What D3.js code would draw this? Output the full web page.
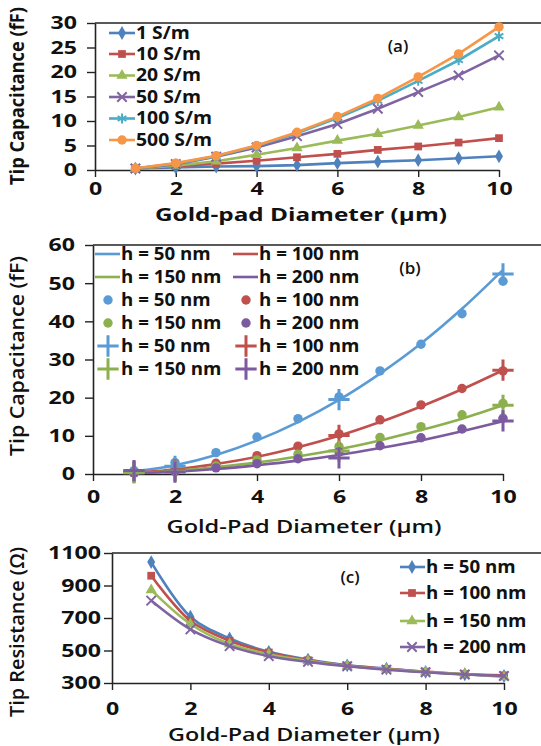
<!DOCTYPE html>
<html>
<head>
<meta charset="utf-8">
<script src="https://cdn.jsdelivr.net/npm/d3@7"></script>
<style>
  body { margin: 0; background: #fff; }
  svg text { font-family: "Open Sans", sans-serif; fill: #111; }
</style>
</head>
<body>
<svg id="chart" width="541" height="746"></svg>
<script>
const svg = d3.select("#chart");

// shared x values
const diam = [1, 2, 3, 4, 5, 6, 7, 8, 9, 10];
const diamTicks = [0, 2, 4, 6, 8, 10];

// panel (a) - capacitance vs conductivity
const condLabels = ["1 S/m", "10 S/m", "20 S/m", "50 S/m", "100 S/m", "500 S/m"];
const cap1 = [0.3, 0.5, 0.7, 0.8, 1.0, 1.4, 1.7, 2.0, 2.4, 2.8];
const cap10 = [0.3, 0.8, 1.3, 1.9, 2.6, 3.3, 4.1, 4.8, 5.6, 6.5];
const cap20 = [0.3, 0.9, 1.8, 3.1, 4.5, 6.0, 7.4, 9.1, 10.8, 12.8];
const cap50 = [0.3, 1.2, 2.7, 4.6, 6.9, 9.4, 12.5, 15.9, 19.3, 23.4];
const cap100 = [0.3, 1.3, 2.8, 4.9, 7.5, 10.6, 14.1, 18.2, 22.4, 27.3];
const cap500 = [0.35, 1.4, 2.9, 5.0, 7.7, 10.9, 14.6, 19.0, 23.7, 29.2];
const capTicksA = [0, 5, 10, 15, 20, 25, 30];

// panel (b) - capacitance vs height: fitted lines, dots, crosses
const hLabels = ["h = 50 nm", "h = 100 nm", "h = 150 nm", "h = 200 nm"];
const fit50 = [0.7, 2.3, 5.0, 8.8, 13.6, 19.4, 26.3, 34.2, 43.3, 53.5];
const fit100 = [0.4, 1.2, 2.6, 4.5, 7.0, 10.0, 13.6, 17.7, 22.2, 27.2];
const fit150 = [0.3, 0.8, 1.8, 3.0, 4.6, 6.5, 8.8, 11.5, 14.5, 18.0];
const fit200 = [0.2, 0.6, 1.3, 2.3, 3.5, 5.0, 6.8, 8.8, 11.2, 13.8];
const dot50 = [0.9, 3.0, 5.6, 9.7, 14.5, 20.2, 27.0, 34.0, 42.0, 50.5];
const dot100 = [0.3, 1.2, 2.8, 4.8, 7.3, 10.5, 14.2, 18.1, 22.4, 27.0];
const dot150 = [0.3, 0.9, 2.1, 3.7, 5.2, 7.2, 9.6, 12.4, 15.5, 18.5];
const dot200 = [0.2, 0.6, 1.6, 2.7, 4.0, 5.8, 7.4, 9.5, 11.8, 14.6];
const crossDiam = [1, 2, 6, 10];
const cross50 = [0.7, 2.0, 19.5, 52.4];
const cross100 = [0.5, 1.0, 10.1, 27.2];
const cross150 = [0.3, 0.7, 6.0, 18.0];
const cross200 = [0.9, 0.5, 4.2, 13.9];
const capTicksB = [0, 10, 20, 30, 40, 50, 60];

// panel (c) - resistance vs height
const res50 = [1044, 708, 574, 492, 444, 409, 389, 368, 354, 343];
const res100 = [960, 683, 560, 488, 440, 407, 387, 370, 354, 347];
const res150 = [873, 663, 540, 477, 436, 405, 385, 368, 354, 337];
const res200 = [807, 630, 527, 465, 430, 403, 382, 366, 352, 343];
const resTicks = [300, 500, 700, 900, 1100];

const colA = ["#4F81BD", "#C0504D", "#9BBB59", "#8064A2", "#4BACC6", "#F79646"];
const colB = ["#5B9BD5", "#C0504D", "#8DB04F", "#7B5AA0"];

// widen text horizontally to mimic the wide original type
function stretch(sel, k) {
  sel.each(function () {
    const w = this.getComputedTextLength();
    d3.select(this).attr("textLength", w * k).attr("lengthAdjust", "spacingAndGlyphs");
  });
  return sel;
}
function fitWidth(sel, w) {
  return sel.attr("textLength", w).attr("lengthAdjust", "spacingAndGlyphs");
}

function frame(g, x, y, yTicks, opt) {
  const xAxis = d3.axisBottom(x).tickValues(diamTicks).tickSize(7).tickSizeOuter(0).tickPadding(opt.xPad);
  const yAxis = d3.axisLeft(y).tickValues(yTicks).tickFormat(d3.format("d"))
    .tickSize(8).tickSizeOuter(0).tickPadding(opt.yPad);
  const gx = g.append("g").attr("transform", `translate(0,${y.range()[0]})`).call(xAxis);
  const gy = g.append("g").attr("transform", `translate(${x(0)},0)`).call(yAxis);
  [gx, gy].forEach(a => {
    a.select(".domain").attr("stroke", "#222").attr("stroke-width", 1.6);
    a.selectAll(".tick line").attr("stroke", "#222").attr("stroke-width", 1.4);
    a.selectAll("text").attr("font-size", 18.5).attr("font-weight", 700).attr("fill", "#111")
      .style("font-family", "'Open Sans', sans-serif");
  });
  stretch(gx.selectAll("text"), 1.25);
  stretch(gy.selectAll("text"), 1.25);
  // top border
  g.append("line").attr("x1", x(0)).attr("x2", 541)
    .attr("y1", y.range()[1]).attr("y2", y.range()[1])
    .attr("stroke", "#222").attr("stroke-width", 1.6);
  // titles
  const xt = g.append("text").attr("x", opt.xTitle[0]).attr("y", opt.xTitle[1])
    .attr("text-anchor", "middle").attr("font-size", 18.5).attr("font-weight", opt.weight)
    .text(opt.xLabel);
  fitWidth(xt, opt.xTitle[2]);
  const yt = g.append("text")
    .attr("transform", `translate(${opt.yTitle[0]},${opt.yTitle[1]}) rotate(-90)`)
    .attr("text-anchor", "middle").attr("font-size", 19).attr("font-weight", opt.weight)
    .text(opt.yLabel);
  fitWidth(yt, opt.yTitle[2]);
  g.append("text").attr("x", opt.tag[0]).attr("y", opt.tag[1])
    .attr("text-anchor", "middle").attr("font-size", 17).attr("font-weight", 600).text(opt.tagText);
}

function marker(g, kind, color, cx, cy) {
  const fills = { diamond: d3.symbolDiamond, square: d3.symbolSquare, triangle: d3.symbolTriangle, circle: d3.symbolCircle };
  const strokes = { times: d3.symbolTimes, asterisk: d3.symbolAsterisk, plus: d3.symbolPlus };
  const sizes = { diamond: 55, square: 60, triangle: 55, circle: 70, times: 60, asterisk: 70, plus: 150 };
  if (fills[kind]) {
    g.append("path").attr("d", d3.symbol(fills[kind], sizes[kind])())
      .attr("transform", `translate(${cx},${cy})`).attr("fill", color);
  } else {
    g.append("path").attr("d", d3.symbol(strokes[kind], sizes[kind])())
      .attr("transform", `translate(${cx},${cy})`).attr("fill", "none")
      .attr("stroke", color).attr("stroke-width", kind === "plus" ? 3 : 2);
  }
}

function legendText(g, x, y, s, k) {
  const t = g.append("text").attr("x", x).attr("y", y).attr("dy", "0.35em")
    .attr("font-size", 17).attr("font-weight", 700).text(s);
  stretch(t, k);
}

// ---------- panel (a)
{
  const g = svg.append("g");
  const x = d3.scaleLinear().domain([0, 10]).range([95, 499]);
  const y = d3.scaleLinear().domain([0, 30]).range([170, 23]);
  frame(g, x, y, capTicksA, {
    xPad: 5, yPad: 10, weight: 700,
    xLabel: "Gold-pad Diameter (μm)", xTitle: [301, 221, 292],
    yLabel: "Tip Capacitance (fF)", yTitle: [24, 96, 178],
    tag: [398, 52], tagText: "(a)"
  });
  const series = [cap1, cap10, cap20, cap50, cap100, cap500];
  const kinds = ["diamond", "square", "triangle", "times", "asterisk", "circle"];
  const line = d3.line().x((d, i) => x(diam[i])).y(d => y(d));
  series.forEach((s, k) => {
    g.append("path").attr("d", line(s)).attr("fill", "none")
      .attr("stroke", colA[k]).attr("stroke-width", 2.6);
    s.forEach((v, i) => marker(g, kinds[k], colA[k], x(diam[i]), y(v)));
  });
  const rowsY = [33, 54, 75.5, 97, 118.5, 140];
  condLabels.forEach((lab, k) => {
    g.append("line").attr("x1", 109).attr("x2", 135).attr("y1", rowsY[k]).attr("y2", rowsY[k])
      .attr("stroke", colA[k]).attr("stroke-width", 2.6);
    marker(g, kinds[k], colA[k], 122, rowsY[k]);
    legendText(g, 136, rowsY[k], lab, 1.14);
  });
}

// ---------- panel (b)
{
  const g = svg.append("g");
  const x = d3.scaleLinear().domain([0, 10]).range([93, 503]);
  const y = d3.scaleLinear().domain([0, 60]).range([474, 245]);
  frame(g, x, y, capTicksB, {
    xPad: 9, yPad: 10, weight: 600,
    xLabel: "Gold-Pad Diameter (μm)", xTitle: [304, 533, 275],
    yLabel: "Tip Capacitance (fF)", yTitle: [24, 356, 200],
    tag: [410, 274], tagText: "(b)"
  });
  const fits = [fit50, fit100, fit150, fit200];
  const dots = [dot50, dot100, dot150, dot200];
  const crosses = [cross50, cross100, cross150, cross200];
  const line = d3.line().curve(d3.curveMonotoneX).x((d, i) => x(diam[i])).y(d => y(d));
  fits.forEach((s, k) => {
    g.append("path").attr("d", line(s)).attr("fill", "none")
      .attr("stroke", colB[k]).attr("stroke-width", 2.6);
  });
  dots.forEach((s, k) => s.forEach((v, i) => marker(g, "circle", colB[k], x(diam[i]), y(v))));
  crosses.forEach((s, k) => s.forEach((v, i) => marker(g, "plus", colB[k], x(crossDiam[i]), y(v))));
  const rowsY = [254, 277, 300, 323, 346, 369];
  const colX = [95, 233];
  hLabels.forEach((lab, k) => {
    const cx = colX[k % 2];
    const r = Math.floor(k / 2);
    g.append("line").attr("x1", cx).attr("x2", cx + 25).attr("y1", rowsY[r]).attr("y2", rowsY[r])
      .attr("stroke", colB[k]).attr("stroke-width", 2.6);
    legendText(g, cx + 26, rowsY[r], lab, 1.1);
    marker(g, "circle", colB[k], cx + 13, rowsY[r + 2]);
    legendText(g, cx + 26, rowsY[r + 2], lab, 1.1);
    marker(g, "plus", colB[k], cx + 13, rowsY[r + 4]);
    legendText(g, cx + 26, rowsY[r + 4], lab, 1.1);
  });
}

// ---------- panel (c)
{
  const g = svg.append("g");
  const x = d3.scaleLinear().domain([0, 10]).range([112, 504]);
  const y = d3.scaleLinear().domain([300, 1100]).range([683, 553]);
  frame(g, x, y, resTicks, {
    xPad: 12, yPad: 3, weight: 600,
    xLabel: "Gold-Pad Diameter (μm)", xTitle: [304, 741, 272],
    yLabel: "Tip Resistance (Ω)", yTitle: [24, 632, 170],
    tag: [350, 583], tagText: "(c)"
  });
  const series = [res50, res100, res150, res200];
  const kinds = ["diamond", "square", "triangle", "times"];
  const line = d3.line().curve(d3.curveCatmullRom).x((d, i) => x(diam[i])).y(d => y(d));
  series.forEach((s, k) => {
    g.append("path").attr("d", line(s)).attr("fill", "none")
      .attr("stroke", colA[k]).attr("stroke-width", 2.6);
    s.forEach((v, i) => marker(g, kinds[k], colA[k], x(diam[i]), y(v)));
  });
  const rowsY = [567, 593, 621, 647];
  hLabels.forEach((lab, k) => {
    g.append("line").attr("x1", 400).attr("x2", 425).attr("y1", rowsY[k]).attr("y2", rowsY[k])
      .attr("stroke", colA[k]).attr("stroke-width", 2.6);
    marker(g, kinds[k], colA[k], 412, rowsY[k]);
    legendText(g, 426, rowsY[k], lab, 1.1);
  });
}
</script>
</body>
</html>
